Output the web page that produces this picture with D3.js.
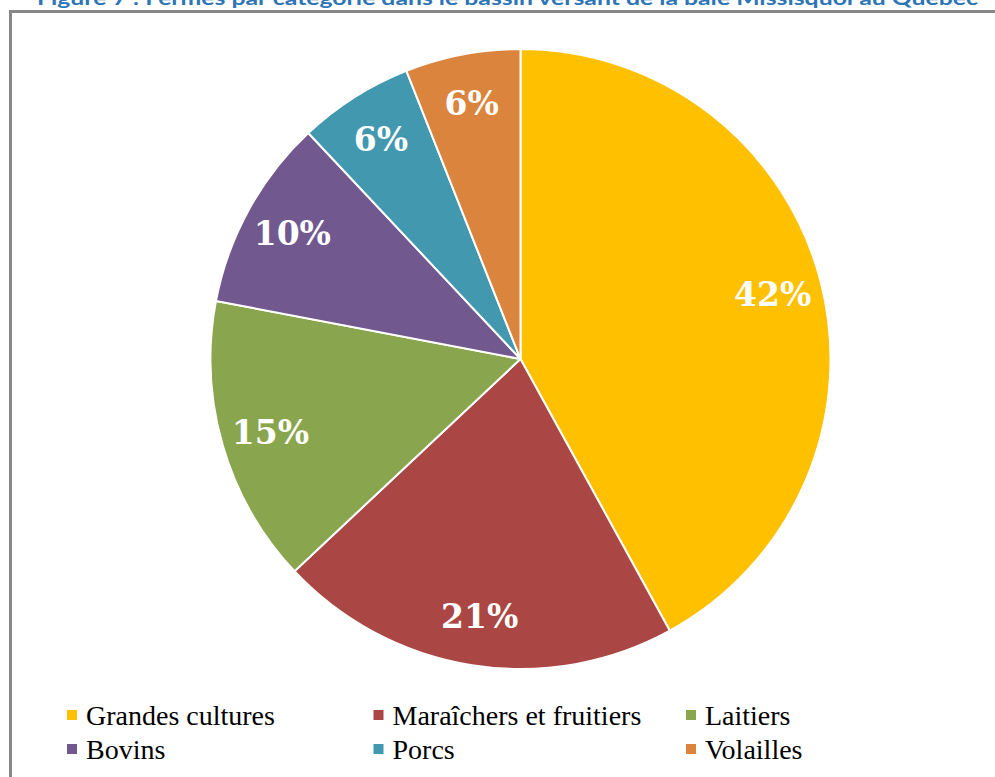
<!DOCTYPE html>
<html>
<head>
<meta charset="utf-8">
<script src="https://cdn.jsdelivr.net/npm/d3@7"></script>
<style>
  html, body { margin: 0; padding: 0; background: #ffffff; }
  svg { display: block; }
</style>
</head>
<body>
<svg id="chart" width="995" height="777"></svg>
<script>
// Farm categories in the Missisquoi Bay watershed (Québec), share of farms in %
const categories = ["Grandes cultures", "Maraîchers et fruitiers", "Laitiers", "Bovins", "Porcs", "Volailles"];
const shares = [42, 21, 15, 10, 6, 6];
const sliceColors = ["#FFC000", "#AA4643", "#89A54E", "#71588F", "#4198AF", "#DB843D"];
const titleText = "Figure 7 : Fermes par catégorie dans le bassin versant de la baie Missisquoi au Québec";

const W = 995, H = 777;
const svg = d3.select("#chart");

// figure title (partly above the visible area)
svg.append("text")
  .attr("x", 37).attr("y", 5)
  .attr("textLength", 941)
  .attr("lengthAdjust", "spacingAndGlyphs")
  .style("font-family", "Lato, 'Open Sans', sans-serif")
  .style("font-weight", "bold")
  .style("font-size", "19px")
  .style("fill", "#2E75B6")
  .text(titleText);

// chart frame
svg.append("rect")
  .attr("x", 10.5).attr("y", 11.5)
  .attr("width", W + 20).attr("height", H + 20)
  .attr("fill", "none")
  .attr("stroke", "#878787")
  .attr("stroke-width", 3);

// pie
const cx = 520.5, cy = 359, R = 310;
const data = categories.map((c, i) => ({ cat: c, value: shares[i], color: sliceColors[i] }));

const pie = d3.pie().value(d => d.value).sort(null);
const arc = d3.arc().innerRadius(0).outerRadius(R);
const labelArc = d3.arc().innerRadius(R * 0.84).outerRadius(R * 0.84);

const g = svg.append("g").attr("transform", `translate(${cx},${cy})`);
const arcs = pie(data);

g.selectAll("path.slice")
  .data(arcs)
  .join("path")
  .attr("class", "slice")
  .attr("d", arc)
  .attr("fill", d => d.data.color)
  .attr("stroke", "#ffffff")
  .attr("stroke-width", 2)
  .attr("stroke-linejoin", "round");

g.selectAll("text.pct")
  .data(arcs)
  .join("text")
  .attr("class", "pct")
  .attr("transform", d => `translate(${labelArc.centroid(d)})`)
  .attr("text-anchor", "middle")
  .attr("dy", "0.36em")
  .style("font-family", "'DejaVu Serif', serif")
  .style("font-weight", "bold")
  .style("font-size", "33px")
  .style("fill", "#ffffff")
  .text(d => d.data.value + "%");

// legend: 3 columns x 2 rows
const colX = d3.scalePoint().domain([0, 1, 2]).range([67, 686]);
const rowY = d3.scalePoint().domain([0, 1]).range([725, 759]);
const legend = svg.append("g");
const items = legend.selectAll("g.item")
  .data(data)
  .join("g")
  .attr("class", "item")
  .attr("transform", (d, i) => `translate(${colX(i % 3) + (i % 3 === 1 ? -3 : 0)},${rowY(Math.floor(i / 3))})`);

items.append("rect")
  .attr("x", 0).attr("y", -15)
  .attr("width", 10).attr("height", 10)
  .attr("fill", d => d.color);

items.append("text")
  .attr("x", 19).attr("y", 0)
  .style("font-family", "'Liberation Serif', serif")
  .style("font-size", "28px")
  .style("fill", "#000000")
  .text(d => d.cat);
</script>
</body>
</html>
